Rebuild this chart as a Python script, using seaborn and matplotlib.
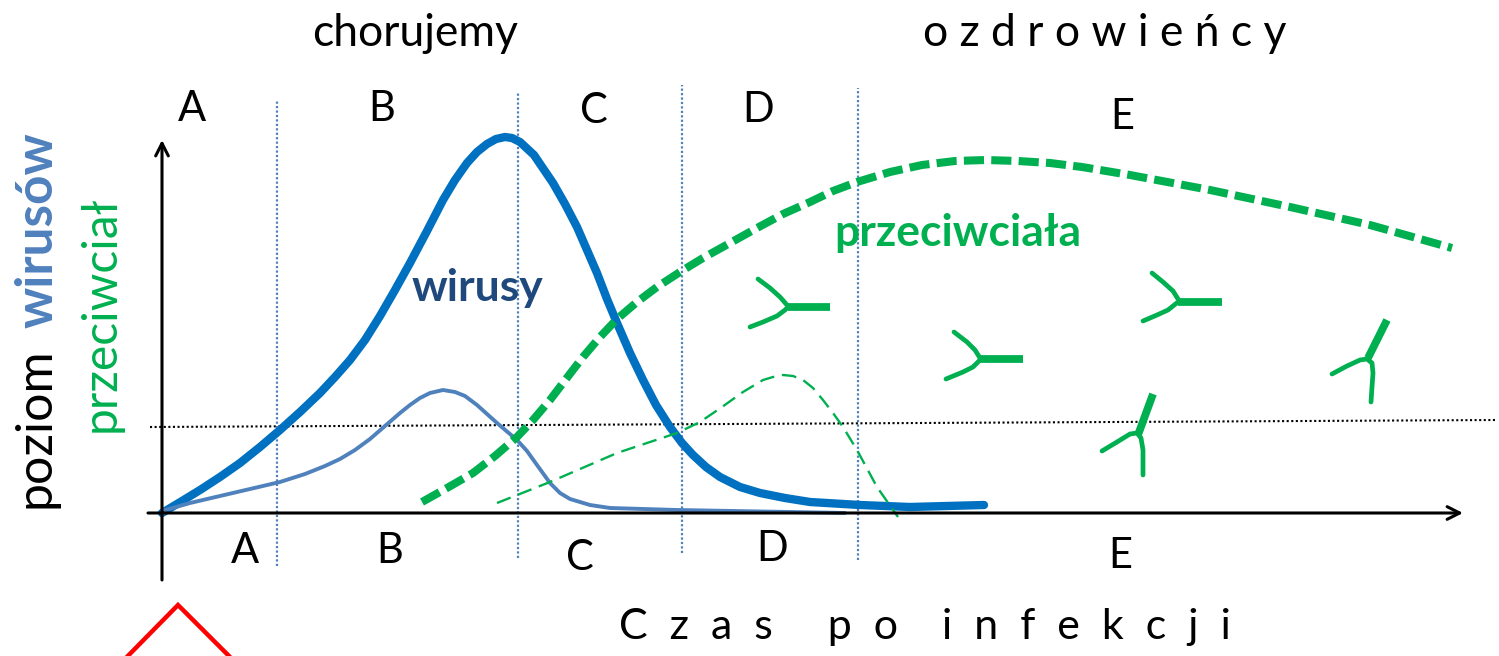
import matplotlib
matplotlib.use("Agg")
import matplotlib.pyplot as plt
import pandas as pd
import seaborn as sns

# ---- data (time after infection, level; arbitrary units)
virus_t = [0, 20, 38, 58, 78, 98, 118, 138, 158, 173, 188, 203, 218, 233, 248, 265, 281, 293, 305, 315, 325,
           334, 343, 350, 358, 372, 391, 403, 415, 425, 435, 445, 455, 468, 481, 494, 508, 520, 531, 544,
           558, 578, 598, 623, 648, 698, 748, 822]
virus_y = [0, 12, 23, 36, 50, 66, 83, 101, 120, 136, 153, 173, 197, 223, 250, 282, 313, 333, 350, 361, 369,
           374, 376, 375, 371, 358, 330, 309, 286, 263, 240, 214, 190, 160, 133, 108, 86, 70, 58, 46,
           36, 26, 20, 15, 11, 8, 6, 8]

free_t = [0, 28, 58, 88, 118, 143, 163, 178, 193, 208, 223, 238, 248, 258, 268, 281, 293, 303, 315, 335,
          355, 365, 375, 388, 398, 408, 428, 448, 515, 683]
free_y = [2, 10, 17, 24, 31, 39, 47, 54, 63, 74, 87, 100, 108, 115, 120, 123, 121, 117, 108, 90,
          73, 62, 48, 30, 20, 14, 8, 5, 3, 0]

igg_t = [260, 285, 311, 333, 355, 371, 388, 404, 421, 438, 455, 475, 495, 518, 541, 568, 595, 621, 648,
         671, 695, 728, 760, 793, 824, 856, 888, 920, 968, 1048, 1128, 1208, 1290]
igg_y = [11, 25, 40, 57, 76, 93, 113, 134, 156, 176, 194, 211, 226, 241, 255, 270, 285, 299, 311,
         322, 331, 341, 348, 352, 353, 352, 350, 346, 338, 323, 306, 288, 265]

igm_t = [335, 388, 455, 515, 538, 560, 581, 601, 611, 621, 631, 641, 651, 661, 671, 681, 695, 715, 736]
igm_y = [10, 31, 60, 80, 91, 106, 121, 133, 136, 138, 137, 133, 125, 113, 100, 86, 63, 26, -4]

threshold_t = [-12, 1335]
threshold_y = [86, 93]

phase_t = [115, 356, 520, 696]
phase_top = [413, 420, 428, 425]
phase_bottom = [-53, -45, -40, -47]

antibody_stems = [
    ([626, 668], [206, 206]), ([818, 861], [154, 154]), ([1016, 1060], [211, 211]),
    ([1225, 1206], [193, 155]), ([991, 976], [119, 78]),
]
antibody_arms = [
    ([596, 608, 618, 625], [234, 225, 216, 208]), ([588, 601, 615, 623, 626], [186, 191, 197, 203, 206]),
    ([792, 805, 813, 818], [181, 171, 163, 155]), ([784, 801, 811, 818], [134, 141, 146, 153]),
    ([990, 1001, 1011, 1016], [240, 231, 222, 214]), ([981, 995, 1006, 1016], [192, 198, 203, 211]),
    ([1170, 1185, 1198, 1205, 1210, 1211, 1210, 1209], [139, 147, 153, 154, 150, 140, 126, 111]),
    ([940, 955, 968, 975, 979, 981, 981, 981], [62, 71, 79, 80, 75, 63, 50, 38]),
]
infection_t = [-43, 16, 76]
infection_y = [-152, -92, -152]

sns.set_theme(style="white")
plt.rcParams["font.family"] = ["Lato", "DejaVu Sans"]

BLUE = "#0070C0"
SOFT = "#4F81BD"
GREEN = "#00B050"
NAVY = "#1F497D"

fig = plt.figure(figsize=(14.99, 6.56), dpi=100)
ax = fig.add_axes([0, 0, 1, 1])
ax.set_xlim(-162, 1337)
ax.set_ylim(-143, 513)
ax.axis("off")


def curve(t, y, **kw):
    sns.lineplot(data=pd.DataFrame({"t": t, "y": y}), x="t", y="y", sort=False,
                 estimator=None, legend=False, ax=ax, **kw)


for x, top, bottom in zip(phase_t, phase_top, phase_bottom):
    curve([x, x], [bottom, top], color=SOFT, lw=1.6, linestyle=(0, (1, 1)))
curve(threshold_t, threshold_y, color="black", lw=1.5, linestyle=(0, (1, 1.2)))

ax.annotate("", xy=(1301, 0), xytext=(-14, 0),
            arrowprops=dict(arrowstyle="->,head_length=0.75,head_width=0.38", color="black", lw=2.2,
                            shrinkA=0, shrinkB=0))
ax.annotate("", xy=(0, 373), xytext=(0, -67),
            arrowprops=dict(arrowstyle="->,head_length=0.75,head_width=0.38", color="black", lw=2.2,
                            shrinkA=0, shrinkB=0))

curve(virus_t, virus_y, color=BLUE, lw=6)
curve(free_t, free_y, color=SOFT, lw=2.8)
curve(igg_t, igg_y, color=GREEN, lw=5.8, linestyle=(0, (2.5, 0.9)))
curve(igm_t, igm_y, color=GREEN, lw=1.7, linestyle=(0, (6.2, 3.3)))

for t, y in antibody_stems:
    curve(t, y, color=GREEN, lw=5.6, solid_capstyle="butt")
for t, y in antibody_arms:
    curve(t, y, color=GREEN, lw=3.4, solid_capstyle="round")

curve(infection_t, infection_y, color="#FF0000", lw=3.2, solid_joinstyle="miter")


def label(px, py, s, size=30, **kw):
    ax.text(px - 162, 513 - py, s, ha="center", va="center", fontsize=size, color=kw.pop("color", "black"), **kw)


label(415, 33, "chorujemy", size=32)
label(1105, 33, "o z d r o w i e ń c y", size=32)
for px, py, s in [(192, 109, "A"), (382, 109, "B"), (594, 111, "C"), (758, 110, "D"), (1122, 117, "E"),
                  (245, 551, "A"), (390, 551, "B"), (580, 558, "C"), (772, 549, "D"), (1120, 556, "E")]:
    label(px, py, s)
label(925, 627, "C  z  a  s     p  o    i  n  f  e  k  c  j  i", size=31)
label(36, 428, "poziom", rotation=90, size=36)
label(38, 230, "wirusów", rotation=90, size=37, color=SOFT, fontweight="bold")
label(101, 314, "przeciwciał", rotation=90, size=34.5, color=GREEN)
label(477, 288, "wirusy", size=32, color=NAVY, fontweight="bold")
label(958, 233, "przeciwciała", size=32, color=GREEN, fontweight="bold")

fig.savefig("out.png", dpi=100)
